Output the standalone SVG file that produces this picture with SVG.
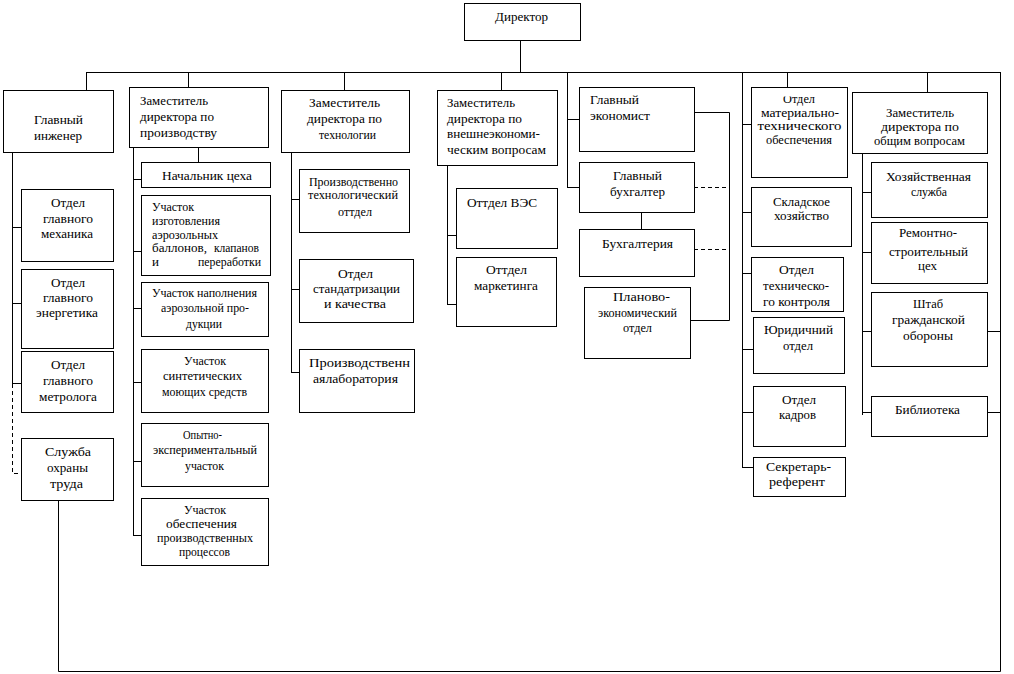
<svg xmlns="http://www.w3.org/2000/svg" width="1014" height="674" viewBox="0 0 1014 674">
<style>
.b{fill:#fff;stroke:#000;stroke-width:1}
.c{fill:none;stroke:#000;stroke-width:1}
.d{fill:none;stroke:#000;stroke-width:1;stroke-dasharray:4 3}
text{font-family:'Liberation Serif','Times New Roman',serif;font-size:13px;fill:#000}
.m{text-anchor:middle}
.e{text-anchor:end}
</style>
<defs>
<clipPath id="cut"><rect x="751" y="96.5" width="96" height="20"/></clipPath>
</defs>
<rect width="1014" height="674" fill="#fff"/>
<g id="connectors">
<path class="c" d="M86 72.5H1000.5M520.5 40V72M86.5 72V90M188.5 72V87M344.5 72V90M501.5 72V90"/>
<path class="c" d="M567.5 72V187.5M567 119.5H579M567 187.5H579M694 112.5H729.5V320.5H690M641.5 212V229"/>
<path class="d" d="M694 187.5H729M694 249.5H729"/>
<path class="c" d="M742.5 72V467.5M742 124.5H751M742 212.5H751M742 273.5H751M742 349.5H753M742 412.5H753M742 467.5H753M787.5 72V87M927.5 72V92"/>
<path class="c" d="M862.5 153V415M862 192.5H871M862 252.5H871M862 331.5H871M862 412.5H871"/>
<path class="c" d="M1000.5 72V671.5M987 331.5H1000M987 412.5H1000M58.5 500V671.5H1000.5"/>
<path class="c" d="M12.5 152V383.5M12 227.5H21M12 303.5H21M12 383.5H21"/>
<path class="d" d="M12.5 384V473.5H21"/>
<path class="c" d="M133.5 147V535.5M133 179.5H141M133 251.5H141M133 308.5H141M133 382.5H141M133 461.5H141M133 535.5H141M198.5 147V162"/>
<path class="c" d="M291.5 152V372.5M291 199.5H299M291 289.5H299M291 372.5H299"/>
<path class="c" d="M447.5 165V304.5M447 235.5H456M447 304.5H456"/>
</g>
<g id="director"><rect class="b" x="464.5" y="3.5" width="116" height="37"/><text class="m" x="521.5" y="21" textLength="53" lengthAdjust="spacingAndGlyphs">Директор</text></g>
<g id="glav-inzh"><rect class="b" x="3.5" y="90.5" width="110" height="62"/><text class="m" x="58.5" y="124" textLength="49" lengthAdjust="spacingAndGlyphs">Главный</text><text class="m" x="58" y="140" textLength="48" lengthAdjust="spacingAndGlyphs">инженер</text></g>
<g id="zam-proizv"><rect class="b" x="129.5" y="87.5" width="139" height="60"/><text x="140" y="105" textLength="68" lengthAdjust="spacingAndGlyphs">Заместитель</text><text x="140" y="121" textLength="74" lengthAdjust="spacingAndGlyphs">директора по</text><text x="140" y="137" textLength="77" lengthAdjust="spacingAndGlyphs">производству</text></g>
<g id="zam-tech"><rect class="b" x="281.5" y="90.5" width="128" height="62"/><text class="m" x="344.5" y="107" textLength="71" lengthAdjust="spacingAndGlyphs">Заместитель</text><text class="m" x="344.5" y="123" textLength="75" lengthAdjust="spacingAndGlyphs">директора по</text><text class="m" x="347.5" y="139" textLength="57" lengthAdjust="spacingAndGlyphs">технологии</text></g>
<g id="zam-ves"><rect class="b" x="437.5" y="90.5" width="120" height="75"/><text x="447" y="107" textLength="68" lengthAdjust="spacingAndGlyphs">Заместитель</text><text x="447" y="123" textLength="75" lengthAdjust="spacingAndGlyphs">директора по</text><text x="447" y="138" textLength="93" lengthAdjust="spacingAndGlyphs">внешнеэкономи-</text><text x="447" y="154" textLength="99" lengthAdjust="spacingAndGlyphs">ческим вопросам</text></g>
<g id="glav-econ"><rect class="b" x="579.5" y="87.5" width="115" height="64"/><text x="590" y="104" textLength="49" lengthAdjust="spacingAndGlyphs">Главный</text><text x="590" y="120" textLength="60" lengthAdjust="spacingAndGlyphs">экономист</text></g>
<g id="glav-buh"><rect class="b" x="579.5" y="162.5" width="115" height="50"/><text class="m" x="637.5" y="180" textLength="49" lengthAdjust="spacingAndGlyphs">Главный</text><text class="m" x="637.5" y="196" textLength="55" lengthAdjust="spacingAndGlyphs">бухгалтер</text></g>
<g id="buhgalteria"><rect class="b" x="579.5" y="229.5" width="115" height="47"/><text class="m" x="637.5" y="248" textLength="71" lengthAdjust="spacingAndGlyphs">Бухгалтерия</text></g>
<g id="plan-econ"><rect class="b" x="584.5" y="287.5" width="106" height="71"/><text class="m" x="641.5" y="301" textLength="57" lengthAdjust="spacingAndGlyphs">Планово-</text><text class="m" x="637.5" y="317" textLength="79" lengthAdjust="spacingAndGlyphs">экономический</text><text class="m" x="637.5" y="332" textLength="29" lengthAdjust="spacingAndGlyphs">отдел</text></g>
<g id="otdel-mto"><rect class="b" x="751.5" y="87.5" width="96" height="90"/><text class="m" x="799" y="103" textLength="32" lengthAdjust="spacingAndGlyphs" clip-path="url(#cut)">Отдел</text><text class="m" x="800" y="117" textLength="78" lengthAdjust="spacingAndGlyphs">материально-</text><text class="m" x="799.5" y="130" textLength="84" lengthAdjust="spacingAndGlyphs">технического</text><text class="m" x="799" y="144" textLength="66" lengthAdjust="spacingAndGlyphs">обеспечения</text></g>
<g id="zam-obsh"><rect class="b" x="852.5" y="92.5" width="135" height="61"/><text class="m" x="920" y="117" textLength="68" lengthAdjust="spacingAndGlyphs">Заместитель</text><text class="m" x="920" y="131" textLength="78" lengthAdjust="spacingAndGlyphs">директора по</text><text class="m" x="919.5" y="145" textLength="91" lengthAdjust="spacingAndGlyphs">общим вопросам</text></g>
<g id="mech"><rect class="b" x="21.5" y="189.5" width="92" height="72"/><text class="m" x="68" y="207" textLength="34" lengthAdjust="spacingAndGlyphs">Отдел</text><text class="m" x="68" y="223" textLength="50" lengthAdjust="spacingAndGlyphs">главного</text><text class="m" x="67" y="238" textLength="52" lengthAdjust="spacingAndGlyphs">механика</text></g>
<g id="energ"><rect class="b" x="21.5" y="269.5" width="92" height="79"/><text class="m" x="68" y="287" textLength="34" lengthAdjust="spacingAndGlyphs">Отдел</text><text class="m" x="68" y="302" textLength="50" lengthAdjust="spacingAndGlyphs">главного</text><text class="m" x="67" y="317" textLength="62" lengthAdjust="spacingAndGlyphs">энергетика</text></g>
<g id="metrol"><rect class="b" x="21.5" y="351.5" width="92" height="61"/><text class="m" x="68" y="369" textLength="34" lengthAdjust="spacingAndGlyphs">Отдел</text><text class="m" x="68" y="385" textLength="50" lengthAdjust="spacingAndGlyphs">главного</text><text class="m" x="68" y="401" textLength="58" lengthAdjust="spacingAndGlyphs">метролога</text></g>
<g id="sluzhba"><rect class="b" x="21.5" y="438.5" width="92" height="62"/><text class="m" x="68" y="456" textLength="46" lengthAdjust="spacingAndGlyphs">Служба</text><text class="m" x="67.5" y="472" textLength="41" lengthAdjust="spacingAndGlyphs">охраны</text><text class="m" x="66.5" y="488" textLength="33" lengthAdjust="spacingAndGlyphs">труда</text></g>
<g id="nach-ceha"><rect class="b" x="141.5" y="162.5" width="129" height="25"/><text class="m" x="207" y="180" textLength="90" lengthAdjust="spacingAndGlyphs">Начальник цеха</text></g>
<g id="uch-izg"><rect class="b" x="141.5" y="195.5" width="129" height="80"/><text x="152" y="211" textLength="42" lengthAdjust="spacingAndGlyphs">Участок</text><text x="152" y="225" textLength="68" lengthAdjust="spacingAndGlyphs">изготовления</text><text x="152" y="239" textLength="66" lengthAdjust="spacingAndGlyphs">аэрозольных</text><text x="152" y="252" textLength="55" lengthAdjust="spacingAndGlyphs">баллонов,</text><text x="214" y="252" textLength="45" lengthAdjust="spacingAndGlyphs">клапанов</text><text x="152" y="266">и</text><text x="198" y="266" textLength="63" lengthAdjust="spacingAndGlyphs">переработки</text></g>
<g id="uch-napol"><rect class="b" x="141.5" y="282.5" width="127" height="54"/><text class="m" x="204.5" y="297" textLength="105" lengthAdjust="spacingAndGlyphs">Участок наполнения</text><text class="m" x="205" y="312" textLength="88" lengthAdjust="spacingAndGlyphs">аэрозольной про-</text><text class="m" x="204" y="328" textLength="36" lengthAdjust="spacingAndGlyphs">дукции</text></g>
<g id="uch-sint"><rect class="b" x="141.5" y="349.5" width="127" height="63"/><text class="m" x="205" y="365" textLength="42" lengthAdjust="spacingAndGlyphs">Участок</text><text class="m" x="202.5" y="380" textLength="79" lengthAdjust="spacingAndGlyphs">синтетических</text><text class="m" x="204.5" y="396" textLength="85" lengthAdjust="spacingAndGlyphs">моющих средств</text></g>
<g id="opyt"><rect class="b" x="141.5" y="423.5" width="127" height="63"/><text class="m" x="202.5" y="439" textLength="39" lengthAdjust="spacingAndGlyphs">Опытно-</text><text class="m" x="205" y="454" textLength="104" lengthAdjust="spacingAndGlyphs">экспериментальный</text><text class="m" x="204.5" y="470" textLength="39" lengthAdjust="spacingAndGlyphs">участок</text></g>
<g id="uch-obesp"><rect class="b" x="141.5" y="498.5" width="127" height="67"/><text class="m" x="205" y="514" textLength="42" lengthAdjust="spacingAndGlyphs">Участок</text><text class="m" x="201.5" y="528" textLength="71" lengthAdjust="spacingAndGlyphs">обеспечения</text><text class="m" x="205" y="542" textLength="96" lengthAdjust="spacingAndGlyphs">производственных</text><text class="m" x="204.5" y="556" textLength="51" lengthAdjust="spacingAndGlyphs">процессов</text></g>
<g id="prot"><rect class="b" x="299.5" y="169.5" width="110" height="63"/><text class="m" x="353.5" y="186" textLength="89" lengthAdjust="spacingAndGlyphs">Производственно</text><text class="m" x="353" y="199" textLength="90" lengthAdjust="spacingAndGlyphs">технологический</text><text class="m" x="355" y="216" textLength="34" lengthAdjust="spacingAndGlyphs">оттдел</text></g>
<g id="standart"><rect class="b" x="299.5" y="259.5" width="114" height="63"/><text class="m" x="355.5" y="278" textLength="35" lengthAdjust="spacingAndGlyphs">Отдел</text><text class="m" x="356.5" y="293" textLength="87" lengthAdjust="spacingAndGlyphs">стандатризации</text><text class="m" x="355" y="308" textLength="62" lengthAdjust="spacingAndGlyphs">и качества</text></g>
<g id="lab"><rect class="b" x="299.5" y="349.5" width="115" height="63"/><text class="m" x="359.5" y="367" textLength="101" lengthAdjust="spacingAndGlyphs">Производственн</text><text class="m" x="355.5" y="383" textLength="85" lengthAdjust="spacingAndGlyphs">аялаборатория</text></g>
<g id="ves"><rect class="b" x="456.5" y="188.5" width="101" height="60"/><text x="467" y="207" textLength="70" lengthAdjust="spacingAndGlyphs">Оттдел ВЭС</text></g>
<g id="marketing"><rect class="b" x="456.5" y="257.5" width="100" height="69"/><text class="m" x="506.5" y="274" textLength="41" lengthAdjust="spacingAndGlyphs">Оттдел</text><text class="m" x="506" y="290" textLength="64" lengthAdjust="spacingAndGlyphs">маркетинга</text></g>
<g id="sklad"><rect class="b" x="751.5" y="187.5" width="100" height="59"/><text class="m" x="801.5" y="206" textLength="57" lengthAdjust="spacingAndGlyphs">Складское</text><text class="m" x="801.5" y="220" textLength="55" lengthAdjust="spacingAndGlyphs">хозяйство</text></g>
<g id="tech-kontrol"><rect class="b" x="751.5" y="257.5" width="92" height="54"/><text class="m" x="796.5" y="274" textLength="35" lengthAdjust="spacingAndGlyphs">Отдел</text><text class="m" x="796" y="290" textLength="66" lengthAdjust="spacingAndGlyphs">техническо-</text><text class="m" x="796.5" y="306" textLength="67" lengthAdjust="spacingAndGlyphs">го контроля</text></g>
<g id="yurid"><rect class="b" x="753.5" y="317.5" width="91" height="56"/><text class="m" x="798.5" y="334" textLength="69" lengthAdjust="spacingAndGlyphs">Юридичний</text><text class="m" x="798" y="350" textLength="30" lengthAdjust="spacingAndGlyphs">отдел</text></g>
<g id="kadry"><rect class="b" x="753.5" y="386.5" width="92" height="60"/><text class="m" x="799" y="404" textLength="34" lengthAdjust="spacingAndGlyphs">Отдел</text><text class="m" x="797.5" y="419" textLength="37" lengthAdjust="spacingAndGlyphs">кадров</text></g>
<g id="sekretar"><rect class="b" x="753.5" y="457.5" width="92" height="39"/><text class="m" x="798.5" y="471" textLength="65" lengthAdjust="spacingAndGlyphs">Секретарь-</text><text class="m" x="797" y="486" textLength="56" lengthAdjust="spacingAndGlyphs">референт</text></g>
<g id="hoz"><rect class="b" x="871.5" y="162.5" width="116" height="55"/><text class="m" x="928.5" y="181" textLength="85" lengthAdjust="spacingAndGlyphs">Хозяйственная</text><text class="m" x="929" y="196" textLength="36" lengthAdjust="spacingAndGlyphs">служба</text></g>
<g id="remont"><rect class="b" x="871.5" y="222.5" width="116" height="61"/><text class="m" x="928" y="237" textLength="58" lengthAdjust="spacingAndGlyphs">Ремонтно-</text><text class="m" x="928.5" y="256" textLength="79" lengthAdjust="spacingAndGlyphs">строительный</text><text class="m" x="927.5" y="270" textLength="19" lengthAdjust="spacingAndGlyphs">цех</text></g>
<g id="shtab"><rect class="b" x="871.5" y="292.5" width="116" height="74"/><text class="m" x="928" y="308" textLength="30" lengthAdjust="spacingAndGlyphs">Штаб</text><text class="m" x="928.5" y="324" textLength="73" lengthAdjust="spacingAndGlyphs">гражданской</text><text class="m" x="928" y="340" textLength="50" lengthAdjust="spacingAndGlyphs">обороны</text></g>
<g id="biblio"><rect class="b" x="871.5" y="396.5" width="116" height="40"/><text class="m" x="927.5" y="414" textLength="65" lengthAdjust="spacingAndGlyphs">Библиотека</text></g>
</svg>
